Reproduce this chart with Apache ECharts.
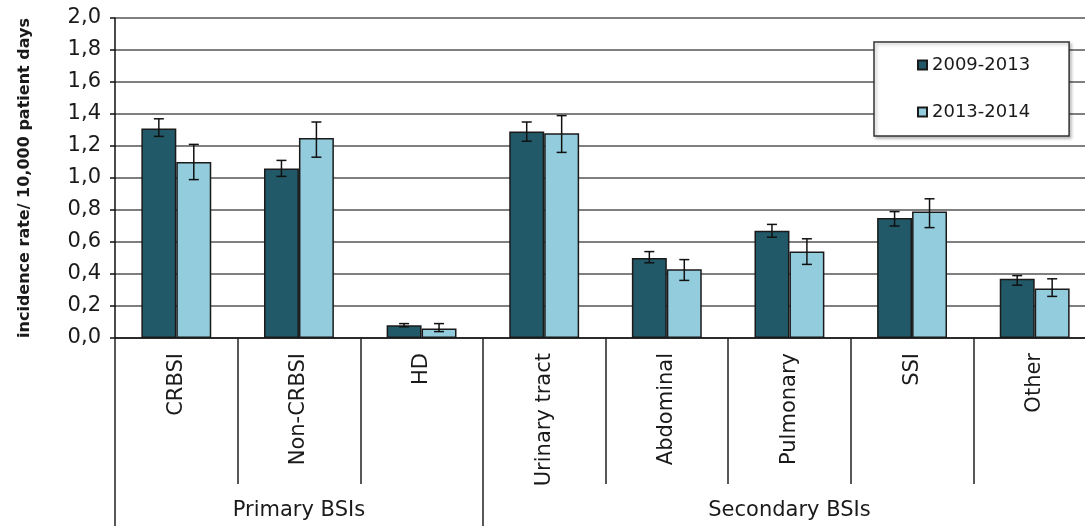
<!DOCTYPE html>
<html>
<head>
<meta charset="utf-8">
<script src="https://cdn.jsdelivr.net/npm/echarts@6/dist/echarts.min.js"></script>
<style>
  html, body { margin: 0; padding: 0; background: #fff; }
  #chart { width: 1085px; height: 526px; }
</style>
</head>
<body>
<div id="chart"></div>
<script>
// datos ------------------------------------------------------------
const categorias = ["CRBSI", "Non-CRBSI", "HD", "Urinary tract", "Abdominal", "Pulmonary", "SSI", "Other"];
const grupos = ["Primary BSIs", "Secondary BSIs"];
const grupoTam = [3, 5];
const yTicks = [0, 0.2, 0.4, 0.6, 0.8, 1.0, 1.2, 1.4, 1.6, 1.8, 2.0];

const serie1 = "2009-2013";
const serie2 = "2013-2014";
const valores1 = [1.31, 1.06, 0.08, 1.29, 0.5, 0.67, 0.75, 0.37];
const valores2 = [1.1, 1.25, 0.06, 1.28, 0.43, 0.54, 0.79, 0.31];
const bajo1 = [1.26, 1.01, 0.07, 1.23, 0.47, 0.63, 0.7, 0.33];
const alto1 = [1.37, 1.11, 0.09, 1.35, 0.54, 0.71, 0.79, 0.39];
const bajo2 = [0.99, 1.13, 0.04, 1.16, 0.36, 0.46, 0.69, 0.26];
const alto2 = [1.21, 1.35, 0.09, 1.39, 0.49, 0.62, 0.87, 0.37];

// eje de grupos: medias bandas (17 puntos)
const grupoLabels = new Array(categorias.length * 2 + 1).fill("");
const grupoBordes = [0];
let acc = 0;
grupos.forEach((g, i) => {
  grupoLabels[acc * 2 + grupoTam[i]] = g;
  acc += grupoTam[i];
  grupoBordes.push(acc * 2);
});

const fuente = "DejaVu Sans";
const texto = "#1a1a1a";
const gapCat = 0.43;

function errorBar(signo) {
  return function (params, api) {
    const x = api.value(0);
    const lo = api.coord([x, api.value(1)]);
    const hi = api.coord([x, api.value(2)]);
    const bw = api.size([1, 0])[0];
    const cx = lo[0] + (signo * bw * (1 - gapCat)) / 4;
    const cap = 5;
    const st = { stroke: "#111", lineWidth: 1.5 };
    return {
      type: "group",
      children: [
        { type: "line", shape: { x1: cx, y1: hi[1], x2: cx, y2: lo[1] }, style: st },
        { type: "line", shape: { x1: cx - cap, y1: hi[1], x2: cx + cap, y2: hi[1] }, style: st },
        { type: "line", shape: { x1: cx - cap, y1: lo[1], x2: cx + cap, y2: lo[1] }, style: st },
      ],
    };
  };
}

const chart = echarts.init(document.getElementById("chart"));
chart.setOption({
  animation: false,
  backgroundColor: "#fff",
  textStyle: { fontFamily: fuente, color: texto },
  grid: { left: 115, top: 18, width: 981, height: 320, outerBoundsMode: "none", containLabel: false },
  legend: {
    data: [serie1, serie2],
    orient: "vertical",
    left: 874,
    top: 42,
    padding: [13, 39, 14, 43],
    itemGap: 27,
    itemWidth: 9,
    itemHeight: 9,
    icon: "rect",
    backgroundColor: "#fff",
    borderColor: "#333",
    borderWidth: 1.5,
    shadowBlur: 3,
    shadowColor: "rgba(0,0,0,0.25)",
    shadowOffsetX: 2,
    shadowOffsetY: 2,
    textStyle: { fontFamily: fuente, fontSize: 18, lineHeight: 20, color: texto },
  },
  xAxis: [
    {
      type: "category",
      data: categorias,
      position: "bottom",
      axisLine: { lineStyle: { color: "#111", width: 1.5 } },
      axisTick: { show: true, interval: 0, length: 146, lineStyle: { color: "#222", width: 1.5 } },
      axisLabel: {
        interval: 0,
        rotate: 90,
        margin: 15,
        fontFamily: fuente,
        fontSize: 21,
        color: texto,
      },
    },
    {
      type: "category",
      data: grupoLabels,
      position: "bottom",
      boundaryGap: false,
      axisLine: { show: false },
      axisTick: {
        show: true,
        length: 188,
        interval: (i) => grupoBordes.includes(i),
        lineStyle: { color: "#222", width: 1.5 },
      },
      axisLabel: { interval: 0, margin: 162, fontFamily: fuente, fontSize: 21, color: texto },
    },
  ],
  yAxis: {
    type: "value",
    min: 0,
    max: 2,
    interval: 0.2,
    name: "incidence rate/ 10,000 patient days",
    nameLocation: "middle",
    nameGap: 82,
    nameTextStyle: { fontFamily: fuente, fontSize: 16, fontWeight: "bold", color: texto },
    axisLine: { show: true, lineStyle: { color: "#111", width: 1.5 } },
    axisTick: { show: true, length: 5, lineStyle: { color: "#111", width: 1.5 } },
    axisLabel: {
      margin: 14,
      fontFamily: fuente,
      fontSize: 21,
      color: texto,
      formatter: (v) => (yTicks.includes(Math.round(v * 10) / 10) ? v.toFixed(1).replace(".", ",") : ""),
    },
    splitLine: { lineStyle: { color: "#555", width: 1.5 } },
  },
  series: [
    {
      name: serie1,
      type: "bar",
      data: valores1,
      barGap: "0%",
      barCategoryGap: gapCat * 100 + "%",
      itemStyle: { color: "#215968", borderColor: "#1a1a1a", borderWidth: 1.5 },
    },
    {
      name: serie2,
      type: "bar",
      data: valores2,
      barGap: "0%",
      barCategoryGap: gapCat * 100 + "%",
      itemStyle: { color: "#93cddd", borderColor: "#1a1a1a", borderWidth: 1.5 },
    },
    {
      name: "err1",
      type: "custom",
      renderItem: errorBar(-1),
      encode: { x: 0, y: [1, 2] },
      data: categorias.map((c, i) => [i, bajo1[i], alto1[i]]),
      z: 5,
    },
    {
      name: "err2",
      type: "custom",
      renderItem: errorBar(1),
      encode: { x: 0, y: [1, 2] },
      data: categorias.map((c, i) => [i, bajo2[i], alto2[i]]),
      z: 5,
    },
  ],
});
</script>
</body>
</html>
